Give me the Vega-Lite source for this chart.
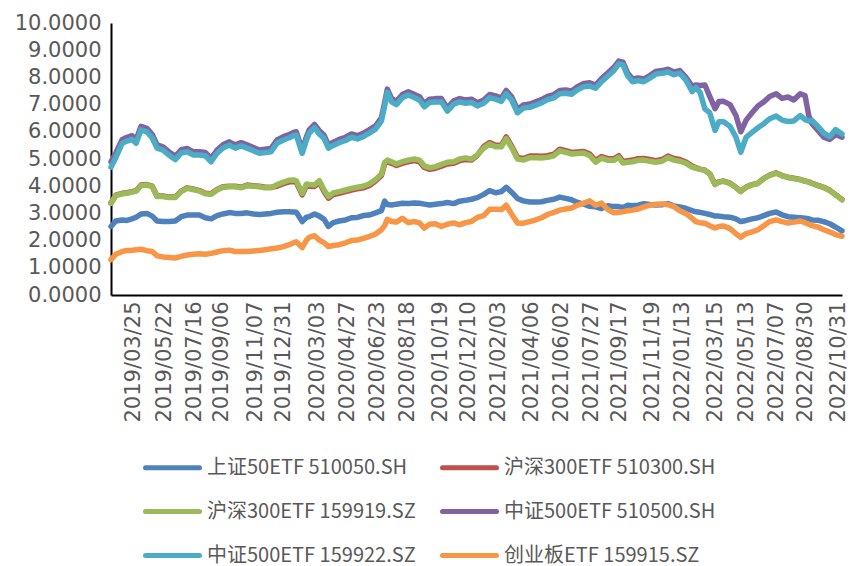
{
"$schema": "https://vega.github.io/schema/vega-lite/v6.json",
"width": 731, "height": 272,
"autosize": {"type": "none"},
"padding": {"left": 111, "top": 23, "right": 8, "bottom": 271},
"background": "white",
"config": {"view": {"stroke": null}, "font": "DejaVu Sans"},
"data": {"values": [
{"d":"2019-02-11","a":2.52,"b":3.39,"c":3.37,"e":4.90,"f":4.70,"g":1.30},
{"d":"2019-02-20","a":2.72,"b":3.67,"c":3.65,"e":5.22,"f":5.05,"g":1.50},
{"d":"2019-03-04","a":2.76,"b":3.74,"c":3.72,"e":5.72,"f":5.58,"g":1.60},
{"d":"2019-03-13","a":2.74,"b":3.76,"c":3.74,"e":5.80,"f":5.66,"g":1.64},
{"d":"2019-03-22","a":2.80,"b":3.80,"c":3.78,"e":5.86,"f":5.72,"g":1.64},
{"d":"2019-03-30","a":2.86,"b":3.84,"c":3.82,"e":5.72,"f":5.58,"g":1.66},
{"d":"2019-04-08","a":2.98,"b":4.04,"c":4.02,"e":6.20,"f":6.07,"g":1.68},
{"d":"2019-04-19","a":3.00,"b":4.06,"c":4.04,"e":6.13,"f":6.00,"g":1.63},
{"d":"2019-04-29","a":2.90,"b":4.00,"c":3.98,"e":5.90,"f":5.77,"g":1.60},
{"d":"2019-05-08","a":2.72,"b":3.64,"c":3.62,"e":5.52,"f":5.40,"g":1.44},
{"d":"2019-05-19","a":2.70,"b":3.64,"c":3.62,"e":5.45,"f":5.33,"g":1.40},
{"d":"2019-05-30","a":2.70,"b":3.60,"c":3.58,"e":5.27,"f":5.15,"g":1.38},
{"d":"2019-06-11","a":2.72,"b":3.60,"c":3.58,"e":5.10,"f":4.98,"g":1.36},
{"d":"2019-06-22","a":2.88,"b":3.82,"c":3.80,"e":5.34,"f":5.22,"g":1.42},
{"d":"2019-07-03","a":2.94,"b":3.94,"c":3.92,"e":5.39,"f":5.27,"g":1.47},
{"d":"2019-07-14","a":2.94,"b":3.90,"c":3.88,"e":5.27,"f":5.15,"g":1.50},
{"d":"2019-07-26","a":2.94,"b":3.84,"c":3.82,"e":5.27,"f":5.15,"g":1.52},
{"d":"2019-08-06","a":2.84,"b":3.74,"c":3.72,"e":5.24,"f":5.12,"g":1.50},
{"d":"2019-08-17","a":2.80,"b":3.72,"c":3.70,"e":5.02,"f":4.90,"g":1.53},
{"d":"2019-08-28","a":2.92,"b":3.88,"c":3.86,"e":5.33,"f":5.21,"g":1.58},
{"d":"2019-09-08","a":2.98,"b":3.98,"c":3.96,"e":5.52,"f":5.40,"g":1.63},
{"d":"2019-09-20","a":3.03,"b":4.00,"c":3.98,"e":5.63,"f":5.51,"g":1.65},
{"d":"2019-10-01","a":3.00,"b":4.00,"c":3.98,"e":5.52,"f":5.40,"g":1.60},
{"d":"2019-10-12","a":3.00,"b":3.96,"c":3.94,"e":5.60,"f":5.48,"g":1.60},
{"d":"2019-10-23","a":3.02,"b":4.04,"c":4.02,"e":5.52,"f":5.40,"g":1.60},
{"d":"2019-11-04","a":2.98,"b":4.02,"c":4.00,"e":5.42,"f":5.30,"g":1.62},
{"d":"2019-11-15","a":2.96,"b":4.00,"c":3.98,"e":5.33,"f":5.21,"g":1.64},
{"d":"2019-11-26","a":2.98,"b":3.96,"c":3.94,"e":5.36,"f":5.24,"g":1.66},
{"d":"2019-12-07","a":3.00,"b":3.96,"c":3.94,"e":5.39,"f":5.27,"g":1.70},
{"d":"2019-12-18","a":3.04,"b":4.00,"c":4.06,"e":5.70,"f":5.58,"g":1.73},
{"d":"2019-12-30","a":3.06,"b":4.09,"c":4.15,"e":5.82,"f":5.70,"g":1.78},
{"d":"2020-01-10","a":3.06,"b":4.16,"c":4.22,"e":5.90,"f":5.78,"g":1.85},
{"d":"2020-01-18","a":3.05,"b":4.17,"c":4.23,"e":5.98,"f":5.86,"g":1.92},
{"d":"2020-01-23","a":3.04,"b":4.14,"c":4.20,"e":6.00,"f":5.88,"g":1.96},
{"d":"2020-02-03","a":2.70,"b":3.68,"c":3.74,"e":5.33,"f":5.21,"g":1.74},
{"d":"2020-02-11","a":2.86,"b":4.02,"c":4.08,"e":5.82,"f":5.70,"g":2.02},
{"d":"2020-02-16","a":2.88,"b":4.00,"c":4.06,"e":6.07,"f":5.95,"g":2.12},
{"d":"2020-02-26","a":2.98,"b":3.99,"c":4.05,"e":6.27,"f":6.15,"g":2.18},
{"d":"2020-03-06","a":2.90,"b":4.14,"c":4.20,"e":6.04,"f":5.92,"g":2.02},
{"d":"2020-03-15","a":2.78,"b":3.80,"c":3.86,"e":5.87,"f":5.75,"g":1.92},
{"d":"2020-03-23","a":2.52,"b":3.56,"c":3.62,"e":5.52,"f":5.40,"g":1.78},
{"d":"2020-04-01","a":2.66,"b":3.69,"c":3.75,"e":5.62,"f":5.50,"g":1.82},
{"d":"2020-04-12","a":2.72,"b":3.74,"c":3.80,"e":5.72,"f":5.60,"g":1.85},
{"d":"2020-04-24","a":2.76,"b":3.80,"c":3.86,"e":5.80,"f":5.68,"g":1.92},
{"d":"2020-05-05","a":2.84,"b":3.86,"c":3.92,"e":5.92,"f":5.80,"g":2.00},
{"d":"2020-05-16","a":2.85,"b":3.90,"c":3.96,"e":5.86,"f":5.74,"g":2.02},
{"d":"2020-05-27","a":2.92,"b":3.94,"c":4.00,"e":5.94,"f":5.82,"g":2.08},
{"d":"2020-06-07","a":2.94,"b":4.02,"c":4.08,"e":6.07,"f":5.95,"g":2.15},
{"d":"2020-06-19","a":3.02,"b":4.19,"c":4.25,"e":6.22,"f":6.10,"g":2.24},
{"d":"2020-06-30","a":3.10,"b":4.39,"c":4.45,"e":6.52,"f":6.40,"g":2.40},
{"d":"2020-07-06","a":3.45,"b":4.82,"c":4.88,"e":7.07,"f":6.95,"g":2.55},
{"d":"2020-07-11","a":3.33,"b":4.90,"c":4.96,"e":7.57,"f":7.45,"g":2.78},
{"d":"2020-07-19","a":3.31,"b":4.84,"c":4.90,"e":7.22,"f":7.10,"g":2.70},
{"d":"2020-07-28","a":3.34,"b":4.76,"c":4.82,"e":7.12,"f":7.00,"g":2.68},
{"d":"2020-08-08","a":3.37,"b":4.84,"c":4.90,"e":7.37,"f":7.25,"g":2.82},
{"d":"2020-08-19","a":3.36,"b":4.90,"c":4.96,"e":7.47,"f":7.35,"g":2.66},
{"d":"2020-08-31","a":3.38,"b":4.94,"c":5.00,"e":7.37,"f":7.25,"g":2.70},
{"d":"2020-09-09","a":3.37,"b":4.90,"c":4.96,"e":7.29,"f":7.17,"g":2.65},
{"d":"2020-09-18","a":3.34,"b":4.69,"c":4.75,"e":7.04,"f":6.92,"g":2.46},
{"d":"2020-09-28","a":3.31,"b":4.62,"c":4.68,"e":7.20,"f":7.08,"g":2.60},
{"d":"2020-10-09","a":3.34,"b":4.66,"c":4.72,"e":7.22,"f":7.10,"g":2.62},
{"d":"2020-10-20","a":3.36,"b":4.74,"c":4.80,"e":7.22,"f":7.10,"g":2.52},
{"d":"2020-10-31","a":3.40,"b":4.82,"c":4.88,"e":6.88,"f":6.76,"g":2.60},
{"d":"2020-11-12","a":3.36,"b":4.84,"c":4.90,"e":7.14,"f":7.02,"g":2.65},
{"d":"2020-11-23","a":3.45,"b":4.94,"c":5.00,"e":7.22,"f":7.10,"g":2.58},
{"d":"2020-12-04","a":3.48,"b":4.98,"c":5.04,"e":7.17,"f":7.05,"g":2.66},
{"d":"2020-12-15","a":3.52,"b":4.96,"c":5.00,"e":7.20,"f":7.08,"g":2.70},
{"d":"2020-12-26","a":3.58,"b":5.13,"c":5.15,"e":7.07,"f":6.95,"g":2.85},
{"d":"2021-01-07","a":3.70,"b":5.46,"c":5.40,"e":7.17,"f":7.05,"g":2.92},
{"d":"2021-01-18","a":3.84,"b":5.61,"c":5.55,"e":7.37,"f":7.25,"g":3.15},
{"d":"2021-01-29","a":3.76,"b":5.51,"c":5.45,"e":7.32,"f":7.20,"g":3.15},
{"d":"2021-02-09","a":3.80,"b":5.51,"c":5.45,"e":7.24,"f":7.12,"g":3.14},
{"d":"2021-02-18","a":3.96,"b":5.81,"c":5.75,"e":7.52,"f":7.40,"g":3.30},
{"d":"2021-02-28","a":3.78,"b":5.48,"c":5.42,"e":7.29,"f":7.17,"g":2.98},
{"d":"2021-03-11","a":3.55,"b":5.06,"c":5.00,"e":6.82,"f":6.70,"g":2.65},
{"d":"2021-03-22","a":3.46,"b":5.02,"c":4.96,"e":6.99,"f":6.87,"g":2.64},
{"d":"2021-04-03","a":3.42,"b":5.11,"c":5.05,"e":7.02,"f":6.90,"g":2.70},
{"d":"2021-04-14","a":3.42,"b":5.11,"c":5.05,"e":7.10,"f":6.98,"g":2.76},
{"d":"2021-04-25","a":3.43,"b":5.10,"c":5.04,"e":7.18,"f":7.06,"g":2.84},
{"d":"2021-05-06","a":3.48,"b":5.12,"c":5.06,"e":7.30,"f":7.18,"g":2.96},
{"d":"2021-05-18","a":3.52,"b":5.18,"c":5.12,"e":7.37,"f":7.25,"g":3.04},
{"d":"2021-05-29","a":3.60,"b":5.36,"c":5.30,"e":7.52,"f":7.40,"g":3.12},
{"d":"2021-06-09","a":3.55,"b":5.31,"c":5.25,"e":7.54,"f":7.42,"g":3.16},
{"d":"2021-06-20","a":3.50,"b":5.24,"c":5.18,"e":7.50,"f":7.38,"g":3.20},
{"d":"2021-07-01","a":3.40,"b":5.26,"c":5.20,"e":7.66,"f":7.54,"g":3.30},
{"d":"2021-07-13","a":3.34,"b":5.28,"c":5.22,"e":7.78,"f":7.66,"g":3.38},
{"d":"2021-07-24","a":3.26,"b":5.18,"c":5.12,"e":7.80,"f":7.68,"g":3.46},
{"d":"2021-08-04","a":3.24,"b":4.94,"c":4.88,"e":7.72,"f":7.60,"g":3.30},
{"d":"2021-08-15","a":3.18,"b":5.09,"c":5.03,"e":7.96,"f":7.84,"g":3.38},
{"d":"2021-08-27","a":3.28,"b":5.01,"c":4.95,"e":8.17,"f":8.05,"g":3.14},
{"d":"2021-09-07","a":3.25,"b":5.01,"c":4.95,"e":8.37,"f":8.25,"g":3.02},
{"d":"2021-09-16","a":3.25,"b":5.12,"c":5.06,"e":8.60,"f":8.50,"g":3.04},
{"d":"2021-09-24","a":3.22,"b":4.91,"c":4.85,"e":8.56,"f":8.46,"g":3.06},
{"d":"2021-10-03","a":3.30,"b":4.94,"c":4.88,"e":8.15,"f":8.05,"g":3.10},
{"d":"2021-10-12","a":3.28,"b":4.96,"c":4.90,"e":7.94,"f":7.84,"g":3.12},
{"d":"2021-10-22","a":3.30,"b":5.01,"c":4.95,"e":7.98,"f":7.88,"g":3.16},
{"d":"2021-11-02","a":3.36,"b":5.02,"c":4.96,"e":7.94,"f":7.84,"g":3.24},
{"d":"2021-11-13","a":3.33,"b":4.98,"c":4.92,"e":8.07,"f":7.97,"g":3.30},
{"d":"2021-11-24","a":3.31,"b":4.94,"c":4.88,"e":8.22,"f":8.12,"g":3.34},
{"d":"2021-12-06","a":3.32,"b":4.98,"c":4.92,"e":8.25,"f":8.15,"g":3.35},
{"d":"2021-12-17","a":3.36,"b":5.11,"c":5.05,"e":8.30,"f":8.20,"g":3.32},
{"d":"2021-12-28","a":3.27,"b":5.02,"c":4.96,"e":8.20,"f":8.10,"g":3.25},
{"d":"2022-01-08","a":3.24,"b":4.98,"c":4.92,"e":8.25,"f":8.15,"g":3.10},
{"d":"2022-01-19","a":3.19,"b":4.90,"c":4.85,"e":8.02,"f":7.92,"g":3.00},
{"d":"2022-01-31","a":3.10,"b":4.74,"c":4.70,"e":7.68,"f":7.48,"g":2.82},
{"d":"2022-02-07","a":3.06,"b":4.68,"c":4.66,"e":7.72,"f":7.62,"g":2.70},
{"d":"2022-02-15","a":3.04,"b":4.63,"c":4.62,"e":7.70,"f":7.45,"g":2.66},
{"d":"2022-02-24","a":3.00,"b":4.59,"c":4.58,"e":7.72,"f":6.84,"g":2.64},
{"d":"2022-03-05","a":2.96,"b":4.46,"c":4.45,"e":7.30,"f":6.70,"g":2.55},
{"d":"2022-03-15","a":2.90,"b":4.07,"c":4.06,"e":6.85,"f":6.05,"g":2.46},
{"d":"2022-03-22","a":2.90,"b":4.16,"c":4.15,"e":7.11,"f":6.37,"g":2.52},
{"d":"2022-03-31","a":2.88,"b":4.19,"c":4.18,"e":7.12,"f":6.37,"g":2.54},
{"d":"2022-04-12","a":2.86,"b":4.11,"c":4.10,"e":7.00,"f":6.20,"g":2.44},
{"d":"2022-04-23","a":2.80,"b":3.96,"c":3.95,"e":6.60,"f":5.80,"g":2.25},
{"d":"2022-05-02","a":2.70,"b":3.81,"c":3.80,"e":6.00,"f":5.25,"g":2.12},
{"d":"2022-05-12","a":2.74,"b":3.97,"c":3.96,"e":6.43,"f":5.80,"g":2.26},
{"d":"2022-05-23","a":2.80,"b":4.06,"c":4.05,"e":6.70,"f":5.98,"g":2.32},
{"d":"2022-06-03","a":2.84,"b":4.11,"c":4.10,"e":6.95,"f":6.15,"g":2.40},
{"d":"2022-06-14","a":2.92,"b":4.29,"c":4.28,"e":7.10,"f":6.30,"g":2.55},
{"d":"2022-06-25","a":3.00,"b":4.41,"c":4.40,"e":7.30,"f":6.48,"g":2.70},
{"d":"2022-07-07","a":3.05,"b":4.49,"c":4.48,"e":7.40,"f":6.58,"g":2.76},
{"d":"2022-07-18","a":2.95,"b":4.39,"c":4.38,"e":7.23,"f":6.43,"g":2.70},
{"d":"2022-07-29","a":2.88,"b":4.33,"c":4.32,"e":7.28,"f":6.38,"g":2.65},
{"d":"2022-08-09","a":2.86,"b":4.29,"c":4.28,"e":7.17,"f":6.40,"g":2.68},
{"d":"2022-08-21","a":2.84,"b":4.25,"c":4.24,"e":7.40,"f":6.60,"g":2.72},
{"d":"2022-08-30","a":2.82,"b":4.19,"c":4.18,"e":7.33,"f":6.45,"g":2.66},
{"d":"2022-09-06","a":2.80,"b":4.16,"c":4.15,"e":6.60,"f":6.40,"g":2.60},
{"d":"2022-09-12","a":2.76,"b":4.11,"c":4.10,"e":6.30,"f":6.42,"g":2.55},
{"d":"2022-09-23","a":2.75,"b":4.03,"c":4.02,"e":6.05,"f":6.20,"g":2.50},
{"d":"2022-10-04","a":2.70,"b":3.96,"c":3.95,"e":5.80,"f":5.95,"g":2.40},
{"d":"2022-10-15","a":2.62,"b":3.85,"c":3.84,"e":5.72,"f":5.82,"g":2.32},
{"d":"2022-10-26","a":2.50,"b":3.69,"c":3.68,"e":5.90,"f":6.08,"g":2.22},
{"d":"2022-11-07","a":2.36,"b":3.51,"c":3.50,"e":5.80,"f":5.92,"g":2.16}
]},
"transform": [
{"fold": ["a","b","c","e","f","g"], "as": ["key","v"]},
{"lookup": "key", "from": {"data": {"values": [
{"key":"a","name":"上证50ETF 510050.SH"},
{"key":"b","name":"沪深300ETF 510300.SH"},
{"key":"c","name":"沪深300ETF 159919.SZ"},
{"key":"e","name":"中证500ETF 510500.SH"},
{"key":"f","name":"中证500ETF 159922.SZ"},
{"key":"g","name":"创业板ETF 159915.SZ"}
]}, "key": "key", "fields": ["name"]}}
],
"mark": {"type": "line", "strokeWidth": 5.5, "strokeCap": "round", "strokeJoin": "round"},
"encoding": {
"x": {"field": "d", "type": "temporal",
 "scale": {"type": "utc", "nice": false, "domain": [{"year":2019,"month":2,"date":11,"utc":true},{"year":2022,"month":11,"date":7,"utc":true}]},
 "axis": {"title": null, "grid": false, "ticks": false, "tickSize": 0, "domainColor": "#000000", "domainWidth": 2,
  "labelAngle": -90, "labelFontSize": 21, "labelFont": "DejaVu Sans", "labelColor": "#595959", "labelPadding": 6,
  "labelOverlap": false, "labelFlush": false, "labelBound": false,
  "labelExpr": "utcFormat(datum.value, '%Y/%m/%d')",
  "values": [
   {"year":2019,"month":3,"date":25,"utc":true},{"year":2019,"month":5,"date":22,"utc":true},{"year":2019,"month":7,"date":16,"utc":true},
   {"year":2019,"month":9,"date":6,"utc":true},{"year":2019,"month":11,"date":7,"utc":true},{"year":2019,"month":12,"date":31,"utc":true},
   {"year":2020,"month":3,"date":3,"utc":true},{"year":2020,"month":4,"date":27,"utc":true},{"year":2020,"month":6,"date":23,"utc":true},
   {"year":2020,"month":8,"date":18,"utc":true},{"year":2020,"month":10,"date":19,"utc":true},{"year":2020,"month":12,"date":10,"utc":true},
   {"year":2021,"month":2,"date":3,"utc":true},{"year":2021,"month":4,"date":6,"utc":true},{"year":2021,"month":6,"date":2,"utc":true},
   {"year":2021,"month":7,"date":27,"utc":true},{"year":2021,"month":9,"date":17,"utc":true},{"year":2021,"month":11,"date":19,"utc":true},
   {"year":2022,"month":1,"date":13,"utc":true},{"year":2022,"month":3,"date":15,"utc":true},{"year":2022,"month":5,"date":13,"utc":true},
   {"year":2022,"month":7,"date":7,"utc":true},{"year":2022,"month":8,"date":30,"utc":true},{"year":2022,"month":10,"date":31,"utc":true}
  ]}},
"y": {"field": "v", "type": "quantitative",
 "scale": {"domain": [0, 10], "nice": false, "zero": true},
 "axis": {"title": null, "grid": false, "ticks": false, "tickSize": 0, "domainColor": "#000000", "domainWidth": 2,
  "values": [0,1,2,3,4,5,6,7,8,9,10], "format": ".4f", "labelFontSize": 21, "labelFont": "DejaVu Sans", "labelColor": "#595959", "labelPadding": 10}},
"color": {"field": "name", "type": "nominal",
 "scale": {"domain": ["上证50ETF 510050.SH","沪深300ETF 510300.SH","沪深300ETF 159919.SZ","中证500ETF 510500.SH","中证500ETF 159922.SZ","创业板ETF 159915.SZ"],
  "range": ["#4F81BD","#C0504D","#9BBB59","#8064A2","#4BACC6","#F79646"]},
 "legend": {"title": null, "orient": "none", "legendX": 32, "legendY": 415, "columns": 2, "direction": "horizontal", "padding": 0,
  "symbolType": "stroke", "symbolSize": 2916, "symbolStrokeWidth": 5,
  "labelFontSize": 20, "labelFont": "Noto Sans CJK SC", "labelColor": "#595959", "labelOffset": 5, "labelLimit": 400,
  "rowPadding": 4, "columnPadding": 16,
  "encode": {"symbols": {"update": {"strokeCap": {"value": "round"}}}}}}
}
}
